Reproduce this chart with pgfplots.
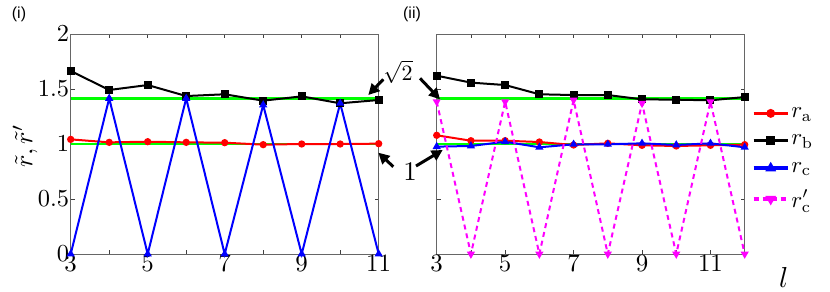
\RequirePackage{fix-cm}
\documentclass[border=0pt]{standalone}
\usepackage{graphicx}
\usepackage{fontspec}
\newfontfamily\panelfont{Liberation Sans}
\usepackage{pgfplots}
\pgfplotsset{compat=1.18}
\usetikzlibrary{arrows.meta}
\definecolor{mgreen}{rgb}{0,1,0}
\definecolor{mred}{rgb}{1,0,0}
\definecolor{mblue}{rgb}{0,0,1}
\definecolor{mmag}{rgb}{1,0,1}
\newcommand{\sz}[2]{\scalebox{#1}{\fontsize{10}{12}\selectfont #2}}
\pgfplotsset{
  panel/.style={
    scale only axis, width=308bp, height=220bp,
    xmin=3, ymin=0, ymax=2,
    ytick={0,0.5,1,1.5,2},
    axis line style={black!60, line width=0.8bp},
    tick style={black!75, line width=0.6bp},
    major tick length=4bp, tick align=inside,
    clip=false,
    xticklabel style={inner sep=1.5bp},
    yticklabel style={inner sep=1.5bp},
  },
  gline/.style={mgreen, line width=2.5bp, forget plot},
  ra/.style={mred, line width=2bp, mark=*, mark size=2.6bp},
  rb/.style={black, line width=2bp, mark=square*, mark size=3bp},
  rc/.style={mblue, line width=2bp, mark=triangle*, mark size=2.8bp},
  rcp/.style={mmag, line width=2bp, dash pattern=on 5bp off 4bp, mark=triangle*, mark size=2.8bp, mark options={solid, rotate=180}},
}
\begin{document}
\begin{tikzpicture}
\path[use as bounding box] (0,0) rectangle (830bp,292bp);

\begin{axis}[panel, at={(70.7bp,38bp)}, anchor=south west,
  xmax=11, xtick={3,...,11},
  xticklabels={\sz{2.5}{$3$},,\sz{2.5}{$5$},,\sz{2.5}{$7$},,\sz{2.5}{$9$},,\sz{2.5}{$11$}},
  yticklabels={\sz{2.45}{$0$},\sz{2.45}{$0.5$},\sz{2.45}{$1$},\sz{2.45}{$1.5$},\sz{2.45}{$2$}},
  ylabel={\sz{2.6}{$\tilde{r},\tilde{r}'$}},
  ylabel style={at={(axis description cs:-0.148,0.49)}, anchor=center},
]
\addplot[gline] coordinates {(3,1.4142) (11,1.4142)};
\addplot[gline] coordinates {(3,1) (11,1)};
\addplot[ra] coordinates {(3,1.042)(4,1.015)(5,1.021)(6,1.015)(7,1.012)(8,0.994)(9,1.0)(10,1.0)(11,1.003)};
\addplot[rb] coordinates {(3,1.664)(4,1.491)(5,1.536)(6,1.436)(7,1.452)(8,1.394)(9,1.433)(10,1.370)(11,1.400)};
\addplot[rc] coordinates {(3,0)(4,1.415)(5,0)(6,1.415)(7,0)(8,1.355)(9,0)(10,1.37)(11,0)};
\end{axis}

\begin{axis}[panel, at={(436.7bp,38bp)}, anchor=south west,
  xmax=12, xtick={3,...,12},
  xticklabels={\sz{2.5}{$3$},,\sz{2.5}{$5$},,\sz{2.5}{$7$},,\sz{2.5}{$9$},,\sz{2.5}{$11$},},
  yticklabels={},
  xlabel={\sz{2.9}{$l$}},
  xlabel style={at={(axis description cs:1.127,-0.105)}, anchor=center},
  legend style={at={(1.023,0.675)}, anchor=north west, draw=none, fill=none,
    row sep=12bp, inner sep=0pt,
    nodes={inner sep=2bp}},
  legend cell align=left,
  legend image code/.code={\draw[mark repeat=2,mark phase=2,#1,line width=3.5bp] plot coordinates {(0bp,0bp) (17bp,0bp) (34bp,0bp)};},
]
\addplot[gline] coordinates {(3,1.4142) (12,1.4142)};
\addplot[gline] coordinates {(3,1) (12,1)};
\addplot[ra] coordinates {(3,1.079)(4,1.03)(5,1.03)(6,1.018)(7,0.991)(8,1.006)(9,0.988)(10,0.982)(11,0.988)(12,0.994)};
\addlegendentry{\sz{2.3}{$r_{\mathrm{a}}$}}
\addplot[rb] coordinates {(3,1.621)(4,1.558)(5,1.536)(6,1.452)(7,1.445)(8,1.445)(9,1.406)(10,1.403)(11,1.397)(12,1.427)};
\addlegendentry{\sz{2.3}{$r_{\mathrm{b}}$}}
\addplot[rc] coordinates {(3,0.976)(4,0.982)(5,1.021)(6,0.97)(7,0.997)(8,0.997)(9,1.006)(10,0.991)(11,1.006)(12,0.97)};
\addlegendentry{\sz{2.3}{$r_{\mathrm{c}}$}}
\addplot[rcp] coordinates {(3,1.385)(4,0)(5,1.385)(6,0)(7,1.4)(8,0)(9,1.37)(10,0)(11,1.385)(12,0)};
\addlegendentry{\sz{2.3}{$r'_{\mathrm{c}}$}}
\end{axis}

\node at (19bp,278bp) {\scalebox{1.6}{\panelfont\fontsize{10}{12}\selectfont (i)}};
\node at (412bp,278bp) {\scalebox{1.6}{\panelfont\fontsize{10}{12}\selectfont (ii)}};

\node at (398bp,220bp) {\sz{2.2}{$\sqrt{2}$}};
\node at (410bp,120bp) {\sz{2.7}{$1$}};
\draw[line width=3bp, -{Triangle[length=11bp,width=11bp]}] (383.3bp,212.7bp) -- (368.3bp,197bp);
\draw[line width=3bp, -{Triangle[length=11bp,width=11bp]}] (420bp,213.7bp) -- (440bp,192.7bp);
\draw[line width=3bp, -{Triangle[length=11bp,width=11bp]}] (393.3bp,125.3bp) -- (378.3bp,139.3bp);
\draw[line width=3bp, -{Triangle[length=11bp,width=11bp]}] (416bp,126bp) -- (442.7bp,142bp);
\end{tikzpicture}
\end{document}
